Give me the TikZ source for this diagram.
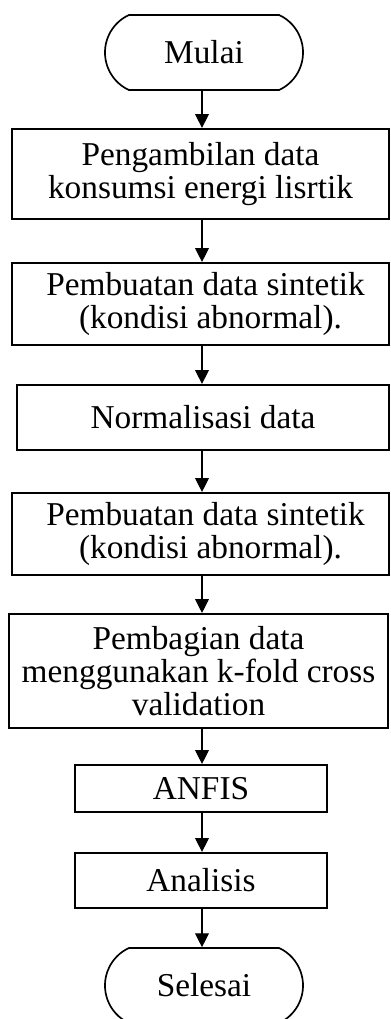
\documentclass[tikz,border=0pt]{standalone}
\usepackage{fontspec}
\setmainfont{Liberation Serif}
\usetikzlibrary{arrows.meta,shapes.misc}

\tikzset{
    box/.style={draw, line width=0.8pt, align=center, inner sep=0pt, font=\fontsize{12}{12}\selectfont},
    term/.style={draw, line width=0.6pt, rounded rectangle, rounded rectangle arc length=130, inner sep=0pt, minimum width=71.3pt, minimum height=27pt, font=\fontsize{12}{12}\selectfont},
    arr/.style={line width=0.4pt, -{Triangle[length=5pt,width=5pt]}}
}

\begin{document}
\begin{tikzpicture}[x=0.36pt, y=-0.36pt]
    \useasboundingbox (0,0) rectangle (390,1019);
    \node[term] at (204,52.5) (mulai) {Mulai};
    \node[box, minimum width=135.7pt, minimum height=32.4pt] at (200.5,174) (ambil) {Pengambilan data\\konsumsi energi lisrtik};
    \node[box, minimum width=135.7pt, minimum height=29.5pt] at (200.5,304) (sintetik1) {\hspace{0.3em}Pembuatan data sintetik\\\hspace{0.6em}(kondisi abnormal).};
    \node[box, minimum width=133.9pt, minimum height=23.4pt] at (203,417.5) (norm) {Normalisasi data};
    \node[box, minimum width=135.7pt, minimum height=29.5pt] at (200.5,534) (sintetik2) {\hspace{0.3em}Pembuatan data sintetik\\\hspace{0.6em}(kondisi abnormal).};
    \node[box, minimum width=136.4pt, minimum height=41pt] at (198.5,671) (bagi) {Pembagian data\\menggunakan k-fold cross\\validation};
    \node[box, minimum width=90.7pt, minimum height=16.9pt] at (201,788.5) (anfis) {ANFIS};
    \node[box, minimum width=90.7pt, minimum height=19.8pt] at (201,880.5) (analisis) {Analisis};
    \node[term] at (204,985.5) (selesai) {Selesai};
    \draw[arr] (202,0 |- mulai.south) -- (202,0 |- ambil.north);
    \draw[arr] (202,0 |- ambil.south) -- (202,0 |- sintetik1.north);
    \draw[arr] (202,0 |- sintetik1.south) -- (202,0 |- norm.north);
    \draw[arr] (202,0 |- norm.south) -- (202,0 |- sintetik2.north);
    \draw[arr] (202,0 |- sintetik2.south) -- (202,0 |- bagi.north);
    \draw[arr] (202,0 |- bagi.south) -- (202,0 |- anfis.north);
    \draw[arr] (202,0 |- anfis.south) -- (202,0 |- analisis.north);
    \draw[arr] (202,0 |- analisis.south) -- (202,0 |- selesai.north);
\end{tikzpicture}
\end{document}
